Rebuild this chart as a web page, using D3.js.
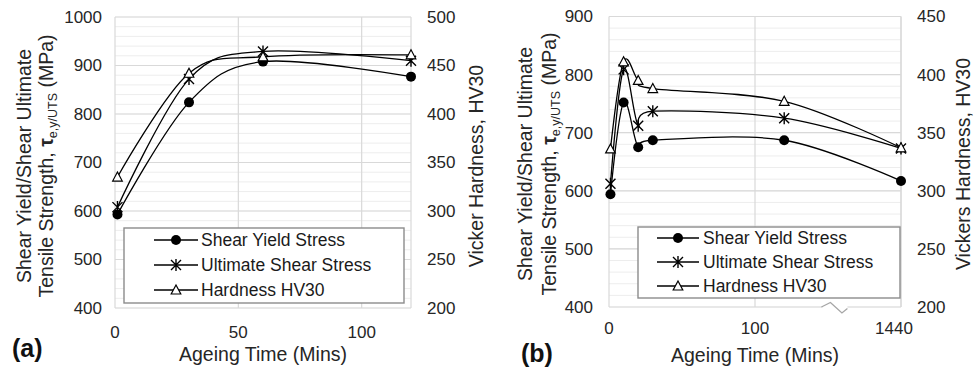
<!DOCTYPE html>
<html>
<head>
<meta charset="utf-8">
<script src="https://cdn.jsdelivr.net/npm/d3@7"></script>
<style>
  body { margin: 0; background: #fff; }
  text { font-family: "Liberation Sans", Arial, sans-serif; fill: #262626; }
</style>
</head>
<body>
<svg id="viz" width="977" height="373"></svg>
<script>
/***************** Data *********************/
var seriesNames = ["Shear Yield Stress", "Ultimate Shear Stress", "Hardness HV30"];

// panel (a)
var timeA = [1, 30, 60, 120];
var yieldA = [593, 824, 908, 877];
var utsA = [608, 872, 929, 910];
var hvA = [335, 442, 459, 461];
var xTicksA = [0, 50, 100];
var yTicksA = [400, 500, 600, 700, 800, 900, 1000];
var hvTicksA = [200, 250, 300, 350, 400, 450, 500];

// panel (b) - 1440 min is squeezed in after a broken axis
var timeB = [1, 10, 20, 30, 120, 1440];
var yieldB = [594, 752, 675, 687, 687, 617];
var utsB = [612, 809, 712, 737, 725, 673];
var hvB = [336, 411, 395, 388, 377, 337];
var xTicksB = [0, 100, 1440];
var yTicksB = [400, 500, 600, 700, 800, 900];
var hvTicksB = [200, 250, 300, 350, 400, 450];

var grid_major = "#d9d9d9",
    grid_minor = "#ededed";

var svg = d3.select("#viz");

/***************** Markers *********************/
var drawMarker = function(g, kind, x, y) {
  if (kind === 0) {
    g.append("circle").attr("cx", x).attr("cy", y).attr("r", 5).style("fill", "#000");
  } else if (kind === 1) {
    g.append("path")
      .attr("transform", "translate(" + x + "," + y + ")")
      .attr("d", "M-5,-5L5,5M-5,5L5,-5M0,-6L0,6")
      .style("stroke", "#000").style("stroke-width", 1.4).style("fill", "none");
  } else {
    g.append("path")
      .attr("transform", "translate(" + x + "," + y + ")")
      .attr("d", "M0,-5L4.8,4L-4.8,4Z")
      .style("stroke", "#000").style("stroke-width", 1.2).style("fill", "#fff");
  }
}

/***************** Panel *********************/
var drawPanel = function(c) {
  var g = svg.append("g");
  var x = c.x, yL = c.yL, yR = c.yR;

  /* minor + major horizontal grid */
  var minor = d3.range(c.yDomain[0], c.yDomain[1] + 1, 20);
  g.selectAll(".minor").data(minor).enter().append("line")
    .attr("x1", c.left).attr("x2", c.right)
    .attr("y1", function(d) { return yL(d); }).attr("y2", function(d) { return yL(d); })
    .style("stroke", grid_minor).style("stroke-width", 1);
  g.selectAll(".major").data(c.yTicks).enter().append("line")
    .attr("x1", c.left).attr("x2", c.right)
    .attr("y1", function(d) { return yL(d); }).attr("y2", function(d) { return yL(d); })
    .style("stroke", grid_major).style("stroke-width", 1.2);
  var vlines = c.xTicks.concat([c.xMax]);
  g.selectAll(".vline").data(vlines).enter().append("line")
    .attr("x1", function(d) { return x(d); }).attr("x2", function(d) { return x(d); })
    .attr("y1", c.top).attr("y2", c.bottom)
    .style("stroke", grid_major).style("stroke-width", 1.2);

  /* axis break */
  if (c.breakAt) {
    var bx = c.breakAt, by = c.bottom;
    g.append("rect").attr("x", bx - 12).attr("y", by - 2).attr("width", 25).attr("height", 4)
      .style("fill", "#fff");
    g.append("polyline")
      .attr("points", [[bx - 13, by], [bx - 4, by - 4.5], [bx + 7.5, by + 6], [bx + 13, by + 1.5]].join(" "))
      .style("fill", "none").style("stroke", "#a6a6a6").style("stroke-width", 1.3);
  }

  /* tick labels */
  g.selectAll(".ly").data(c.yTicks).enter().append("text")
    .attr("x", c.left - c.tickGap).attr("y", function(d) { return yL(d); })
    .attr("dy", "0.35em").style("text-anchor", "end").style("font-size", "17px")
    .text(function(d) { return d; });
  g.selectAll(".ry").data(c.hvTicks).enter().append("text")
    .attr("x", c.right + 16).attr("y", function(d) { return yR(d); })
    .attr("dy", "0.35em").style("text-anchor", "start").style("font-size", "17px")
    .text(function(d) { return d; });
  g.selectAll(".lx").data(c.xTicks).enter().append("text")
    .attr("x", function(d, i) { return x(d) + (c.lastDx && i === c.xTicks.length - 1 ? c.lastDx : 0); })
    .attr("y", c.xTickY).style("text-anchor", "middle").style("font-size", "17px")
    .text(function(d) { return d; });

  /* axis titles */
  g.append("text").attr("x", (c.left + c.right) / 2).attr("y", c.xTitleY)
    .style("text-anchor", "middle").style("font-size", "19.5px").text("Ageing Time (Mins)");
  var cy = c.yTitleCenter;
  g.append("text").attr("transform", "translate(" + c.yTitle1 + "," + cy + ") rotate(-90)")
    .style("text-anchor", "middle").style("font-size", "19.5px").text("Shear Yield/Shear Ultimate");
  var t2 = g.append("text").attr("transform", "translate(" + c.yTitle2 + "," + cy + ") rotate(-90)")
    .style("text-anchor", "middle").style("font-size", "19.5px");
  t2.append("tspan").text("Tensile Strength, ");
  t2.append("tspan").style("font-weight", "bold").text("\u03c4");
  t2.append("tspan").attr("dy", 4).style("font-size", "12.5px").text("e,y/UTS");
  t2.append("tspan").attr("dy", -4).text(" (MPa)");
  g.append("text").attr("transform", "translate(" + c.rTitle + "," + cy + ") rotate(-90)")
    .style("text-anchor", "middle").style("font-size", "19.5px").text(c.rTitleText);

  g.append("text").attr("x", c.letterX).attr("y", c.letterY)
    .style("font-size", "25px").style("font-weight", "bold").style("fill", "#111").text(c.letter);

  /* smoothed series */
  var series = [
    { vals: c.yieldV, y: yL },
    { vals: c.utsV, y: yL },
    { vals: c.hvV, y: yR }
  ];
  var line = d3.line().curve(d3.curveCardinal.tension(0));
  series.forEach(function(s) {
    var pts = c.time.map(function(t, i) { return [x(t), s.y(s.vals[i])]; });
    g.append("path").attr("d", line(pts))
      .style("fill", "none").style("stroke", "#000").style("stroke-width", 1.3);
  });
  series.forEach(function(s, k) {
    c.time.forEach(function(t, i) { drawMarker(g, k, x(t), s.y(s.vals[i])); });
  });

  /* legend */
  var lb = c.legend;
  g.append("rect").attr("x", lb.x).attr("y", lb.y).attr("width", lb.w).attr("height", lb.h)
    .style("fill", "#fff").style("stroke", "#8c8c8c").style("stroke-width", 1.4);
  seriesNames.forEach(function(name, k) {
    var ry = lb.rows[k];
    g.append("line").attr("x1", lb.s0).attr("x2", lb.s1).attr("y1", ry).attr("y2", ry)
      .style("stroke", "#000").style("stroke-width", 1.3);
    drawMarker(g, k, (lb.s0 + lb.s1) / 2, ry);
    g.append("text").attr("x", lb.tx).attr("y", ry).attr("dy", "0.35em")
      .style("font-size", "17.5px").style("fill", "#1a1a1a").text(name);
  });
}

/***************** Build panels *********************/
var leftA = 115, rightA = 411, topA = 17, bottomA = 308;
drawPanel({
  left: leftA, right: rightA, top: topA, bottom: bottomA,
  x: d3.scaleLinear().domain([0, 120]).range([leftA, rightA]),
  yL: d3.scaleLinear().domain([400, 1000]).range([bottomA, topA]),
  yR: d3.scaleLinear().domain([200, 500]).range([bottomA, topA]),
  yDomain: [400, 1000], xMax: 120,
  xTicks: xTicksA, yTicks: yTicksA, hvTicks: hvTicksA,
  time: timeA, yieldV: yieldA, utsV: utsA, hvV: hvA,
  tickGap: 13, xTickY: 338, xTitleY: 361,
  yTitle1: 31, yTitle2: 53, yTitleCenter: 166, rTitle: 483,
  rTitleText: "Vicker Hardness, HV30",
  letter: "(a)", letterX: 12, letterY: 357,
  legend: { x: 124, y: 228, w: 280, h: 75, rows: [240, 265, 290], s0: 154, s1: 198, tx: 201 }
});

var leftB = 609, rightB = 901, topB = 16.5, bottomB = 307;
var per100 = (rightB - leftB) / 2;
var xB = d3.scaleLinear().domain([0, 120, 1440]).range([leftB, leftB + 1.2 * per100, rightB]);
drawPanel({
  left: leftB, right: rightB, top: topB, bottom: bottomB,
  x: xB,
  yL: d3.scaleLinear().domain([400, 900]).range([bottomB, topB]),
  yR: d3.scaleLinear().domain([200, 450]).range([bottomB, topB]),
  yDomain: [400, 900], xMax: 1440,
  xTicks: xTicksB, yTicks: yTicksB, hvTicks: hvTicksB,
  time: timeB, yieldV: yieldB, utsV: utsB, hvV: hvB,
  tickGap: 16, xTickY: 334, xTitleY: 362, lastDx: -7,
  yTitle1: 532, yTitle2: 556, yTitleCenter: 164, rTitle: 970,
  rTitleText: "Vickers Hardness, HV30",
  letter: "(b)", letterX: 521, letterY: 362,
  breakAt: xB(120) + 0.43 * (xB(1440) - xB(120)),
  legend: { x: 638, y: 227, w: 262, h: 71, rows: [238, 262, 286], s0: 657, s1: 699, tx: 703 }
});
</script>
</body>
</html>
